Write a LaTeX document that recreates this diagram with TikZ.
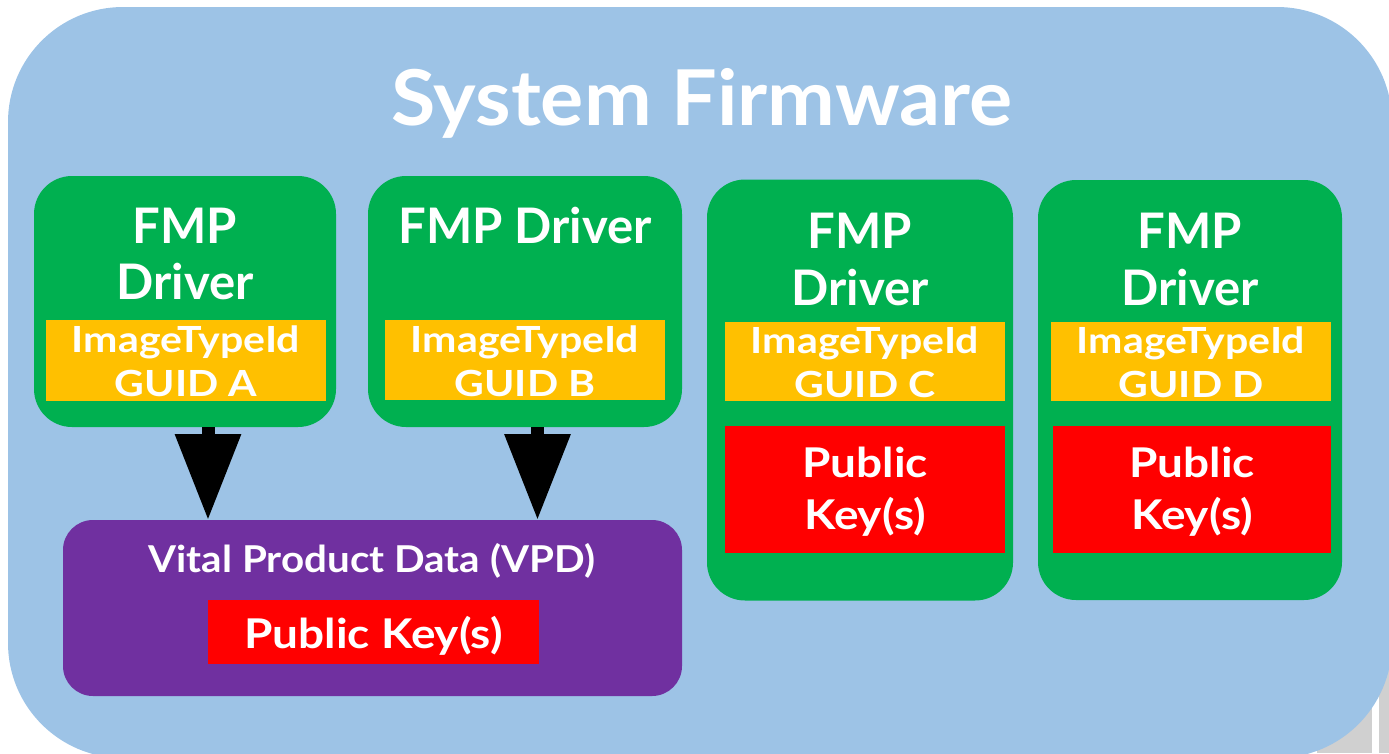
\documentclass[tikz,border=0pt]{standalone}
\usepackage{fontspec}
\setmainfont{Lato}
\newfontfamily\stretchT{Lato}[FakeStretch=1.05]
\newfontfamily\stretchG{Lato}[FakeStretch=1.14]
\newfontfamily\stretchK{Lato}[FakeStretch=1.12]
\newfontfamily\stretchV{Lato}[FakeStretch=1.09]
\usetikzlibrary{arrows.meta}
\definecolor{bgblue}{HTML}{9DC3E6}
\definecolor{fmpgreen}{HTML}{00B050}
\definecolor{guidyellow}{HTML}{FFC000}
\definecolor{keyred}{HTML}{FF0000}
\definecolor{vpdpurple}{HTML}{7030A0}
\definecolor{shadowgray}{HTML}{D0D0D0}
\tikzset{
  box/.style={inner sep=0pt, outer sep=0pt, anchor=center},
  greenbox/.style={box, fill=fmpgreen, rounded corners=38pt},
  yellowbox/.style={box, fill=guidyellow},
  redbox/.style={box, fill=keyred},
  purplebox/.style={box, fill=vpdpurple, rounded corners=30pt},
  txt/.style={text=white, font=\bfseries, inner sep=0pt, anchor=base},
  titletxt/.style={txt, font=\stretchT\fontsize{77}{80}\selectfont\bfseries},
  fmptxt/.style={txt, font=\fontsize{49}{52}\selectfont\bfseries},
  guidtxt/.style={txt, font=\stretchG\fontsize{36}{40}\selectfont\bfseries},
  keytxt/.style={txt, font=\stretchK\fontsize{41}{44}\selectfont\bfseries},
  vpdtxt/.style={txt, font=\stretchV\fontsize{37}{40}\selectfont\bfseries},
  bigarrow/.style={draw=black, line width=13pt, -{Triangle[length=86pt, width=63pt]}},
}
\begin{document}
\begin{tikzpicture}[x=1pt, y=-1pt]
\useasboundingbox (0,0) rectangle (1389,753);
% gray artifacts behind
\fill[shadowgray] (1317,690) rectangle (1372,753);
\fill[shadowgray] (1379,640) rectangle (1389,753);
% system firmware background
\node[box, fill=bgblue, rounded corners=115pt, minimum width=1384pt, minimum height=751pt] (sys) at (700,382.5) {};
\node[titletxt] (title) at (702,125) {System Firmware};

% FMP driver A
\node[greenbox, minimum width=302pt, minimum height=251pt] (fmpA) at (185,301.5) {};
\node[fmptxt] (fmpAl1) at (185,243) {FMP};
\node[fmptxt] (fmpAl2) at (185,299) {Driver};
\node[yellowbox, minimum width=280pt, minimum height=81pt] (guidA) at (186,360.5) {};
\node[guidtxt] (guidAl1) at (186,352) {ImageTypeId};
\node[guidtxt] (guidAl2) at (186,396) {GUID A};

% FMP driver B
\node[greenbox, minimum width=314pt, minimum height=251pt] (fmpB) at (525,301.5) {};
\node[fmptxt] (fmpBl1) at (525,243) {FMP Driver};
\node[yellowbox, minimum width=280pt, minimum height=80pt] (guidB) at (525,360) {};
\node[guidtxt] (guidBl1) at (525,352) {ImageTypeId};
\node[guidtxt] (guidBl2) at (525,396) {GUID B};

% FMP driver C
\node[greenbox, minimum width=306pt, minimum height=421pt] (fmpC) at (860,390) {};
\node[fmptxt] (fmpCl1) at (860,248) {FMP};
\node[fmptxt] (fmpCl2) at (860,305) {Driver};
\node[yellowbox, minimum width=280pt, minimum height=79pt] (guidC) at (865,361) {};
\node[guidtxt] (guidCl1) at (865,353) {ImageTypeId};
\node[guidtxt] (guidCl2) at (865,397) {GUID C};
\node[redbox, minimum width=280pt, minimum height=127pt] (keyC) at (865,489.5) {};
\node[keytxt] (keyCl1) at (865,477) {Public};
\node[keytxt] (keyCl2) at (865,529) {Key(s)};

% FMP driver D
\node[greenbox, minimum width=304pt, minimum height=420pt] (fmpD) at (1190,390) {};
\node[fmptxt] (fmpDl1) at (1190,248) {FMP};
\node[fmptxt] (fmpDl2) at (1190,305) {Driver};
\node[yellowbox, minimum width=280pt, minimum height=79pt] (guidD) at (1191,361.5) {};
\node[guidtxt] (guidDl1) at (1191,353) {ImageTypeId};
\node[guidtxt] (guidDl2) at (1191,397) {GUID D};
\node[redbox, minimum width=278pt, minimum height=127pt] (keyD) at (1192,489.5) {};
\node[keytxt] (keyDl1) at (1192,477) {Public};
\node[keytxt] (keyDl2) at (1192,529) {Key(s)};

% VPD
\node[purplebox, minimum width=619pt, minimum height=176pt] (vpd) at (372.5,608) {};
\node[vpdtxt] (vpdl) at (372,572) {Vital Product Data (VPD)};
\node[redbox, minimum width=331pt, minimum height=64pt] (keyV) at (373.5,632) {};
\node[keytxt] (keyVl) at (373.5,648) {Public Key(s)};

% arrows
\coordinate (axA) at (208,0);
\coordinate (axB) at (537.5,0);
\draw[bigarrow] (fmpA.south -| axA) -- (vpd.north -| axA);
\draw[bigarrow] (fmpB.south -| axB) -- (vpd.north -| axB);
\end{tikzpicture}
\end{document}
